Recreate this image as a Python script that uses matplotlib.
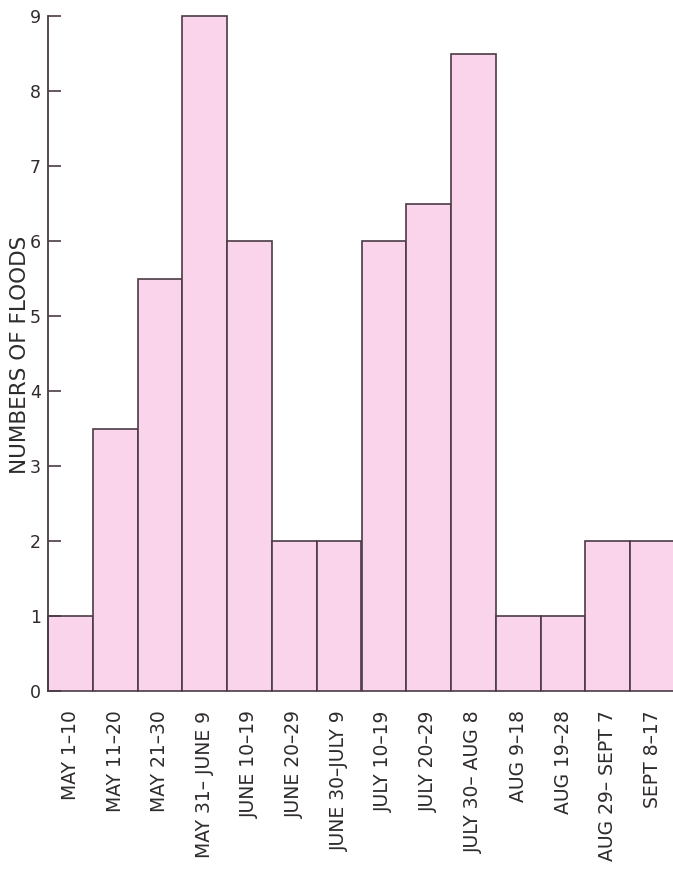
import matplotlib
matplotlib.use("Agg")
import matplotlib.pyplot as plt

categories = ["MAY 1–10", "MAY 11–20", "MAY 21–30", "MAY 31– JUNE 9",
              "JUNE 10–19", "JUNE 20–29", "JUNE 30–JULY 9", "JULY 10–19",
              "JULY 20–29", "JULY 30– AUG 8", "AUG 9–18", "AUG 19–28",
              "AUG 29– SEPT 7", "SEPT 8–17"]
floods = [1, 3.5, 5.5, 9, 6, 2, 2, 6, 6.5, 8.5, 1, 1, 2, 2]
yticks = [0, 1, 2, 3, 4, 5, 6, 7, 8, 9]

plt.rcParams['font.family'] = ['DejaVu Sans']
W, H = 673, 877
fig = plt.figure(figsize=(W / 100, H / 100), dpi=100)
left, right, top, bottom = 48, 675, 16, 691
ax = fig.add_axes([left / W, 1 - bottom / H, (right - left) / W, (bottom - top) / H])

text_col = "#2e2a2d"
edge_col = "#4a3b46"
x = list(range(len(categories)))
bars = ax.bar(x, floods, width=1.0, color="#f9d4eb", edgecolor=edge_col,
              linewidth=1.2)
for b in bars:
    b.set_clip_on(False)

ax.set_xlim(-0.5, len(categories) - 0.5)
ax.set_ylim(0, 9)
for s in ["top", "right", "bottom"]:
    ax.spines[s].set_visible(False)
ax.spines["left"].set_color(edge_col)
ax.spines["left"].set_linewidth(1.3)

ax.set_yticks(yticks)
ax.set_yticklabels([str(v) for v in yticks], fontsize=12.5, color=text_col)
ax.tick_params(axis="y", direction="in", length=9, width=1.2, colors=edge_col,
               labelcolor=text_col, pad=5)

ax.set_xticks(x)
ax.set_xticklabels(categories, rotation=90, fontsize=13.5, color=text_col,
                   ha="center", va="top")
ax.tick_params(axis="x", length=0, pad=14)

fig.text(20 / W, 1 - 355 / H, "NUMBERS OF FLOODS", rotation=90, ha="center",
         va="center", fontsize=15.5, color=text_col)

fig.savefig("out.png", dpi=100, facecolor="white")
